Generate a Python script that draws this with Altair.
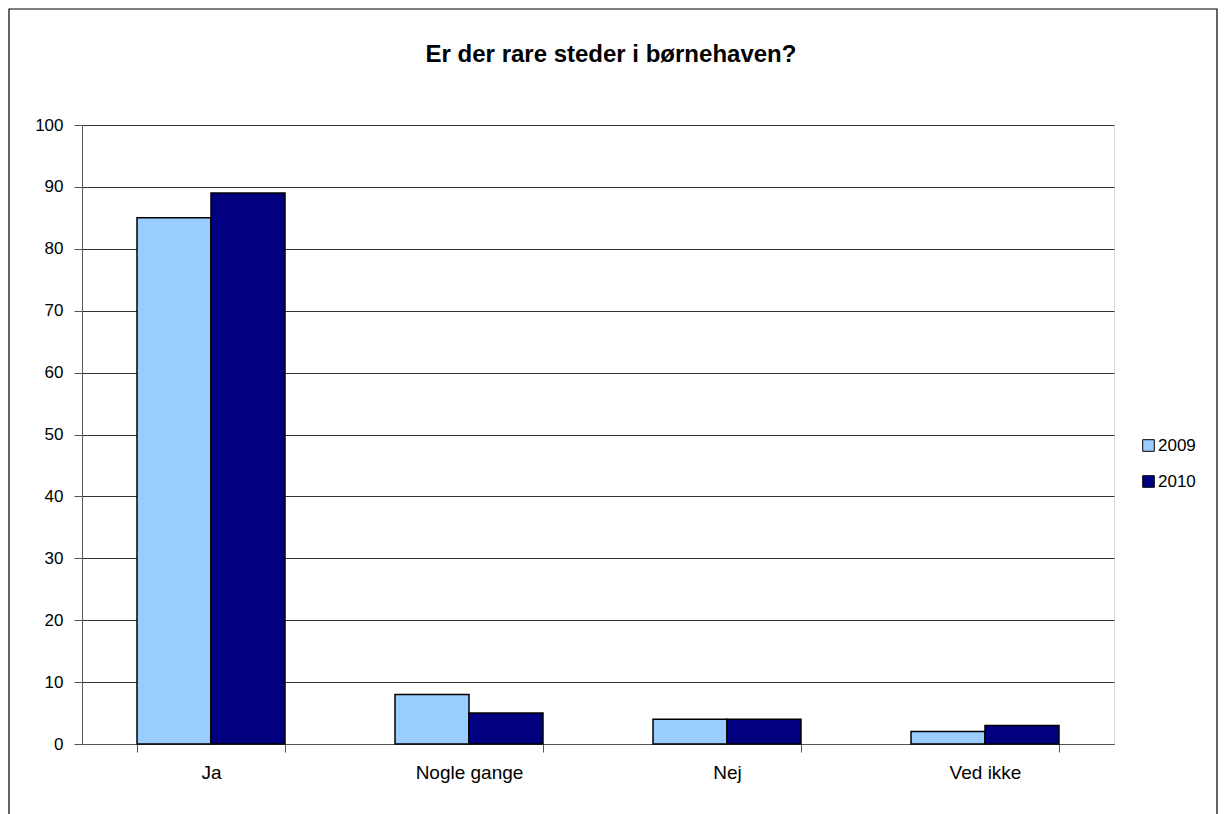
import altair as alt
import pandas as pd

categories = ["Ja", "Nogle gange", "Nej", "Ved ikke"]
years = ["2009", "2010"]
values_2009 = [85, 8, 4, 2]
values_2010 = [89, 5, 4, 3]
colors = ["#99CCFF", "#000080"]

rows = []
for c, a, b in zip(categories, values_2009, values_2010):
    rows.append({"kategori": c, "år": "2009", "værdi": a})
    rows.append({"kategori": c, "år": "2010", "værdi": b})
df = pd.DataFrame(rows)

FONT = "Liberation Sans"

bars = alt.Chart(df).mark_bar(stroke="black", strokeWidth=1.5).encode(
    x=alt.X("kategori:N", sort=categories, title=None,
            scale=alt.Scale(paddingInner=0.4264, paddingOuter=0.2132),
            axis=alt.Axis(labelAngle=0, labelFontSize=19, labelFont=FONT,
                          labelColor="black", labelPadding=11,
                          tickBand="extent", tickSize=8, tickColor="#555555",
                          domainColor="#555555", grid=False)),
    xOffset=alt.XOffset("år:N", sort=years, scale=alt.Scale(paddingInner=0, paddingOuter=0)),
    y=alt.Y("værdi:Q", title=None,
            scale=alt.Scale(domain=[0, 100]),
            axis=alt.Axis(values=list(range(0, 101, 10)), labelFontSize=17, labelFont=FONT,
                          labelColor="black", labelPadding=11, tickSize=8,
                          tickColor="#555555", domainColor="#555555",
                          gridColor="#333333", gridWidth=1)),
    color=alt.Color("år:N", sort=years, title=None,
                    scale=alt.Scale(domain=years, range=colors),
                    legend=alt.Legend(orient="none", legendX=1058, legendY=312,
                                      symbolType="square", symbolSize=135,
                                      symbolStrokeColor="black", symbolStrokeWidth=1,
                                      labelFontSize=17, labelFont=FONT, labelColor="black",
                                      rowPadding=18, labelOffset=1)),
)

frame = alt.Chart(alt.Data(values=[{"a": 1}])).mark_rect(
    fill=None, stroke="black", strokeWidth=1.2
).encode(
    x=alt.value(-73), x2=alt.value(1135), y=alt.value(-116), y2=alt.value(720)
)

chart = alt.layer(bars, frame).properties(
    width=1032, height=619,
    autosize=alt.AutoSizeParams(type="none"),
    padding={"left": 74, "top": 117, "right": 104, "bottom": 70},
    title=alt.TitleParams("Er der rare steder i børnehaven?", font=FONT, fontSize=24,
                          fontWeight="bold", color="black", offset=-59, dx=13),
).configure_view(stroke=None).configure(background="white")

chart.save("out.html", embed_options={"renderer": "svg", "actions": False})
